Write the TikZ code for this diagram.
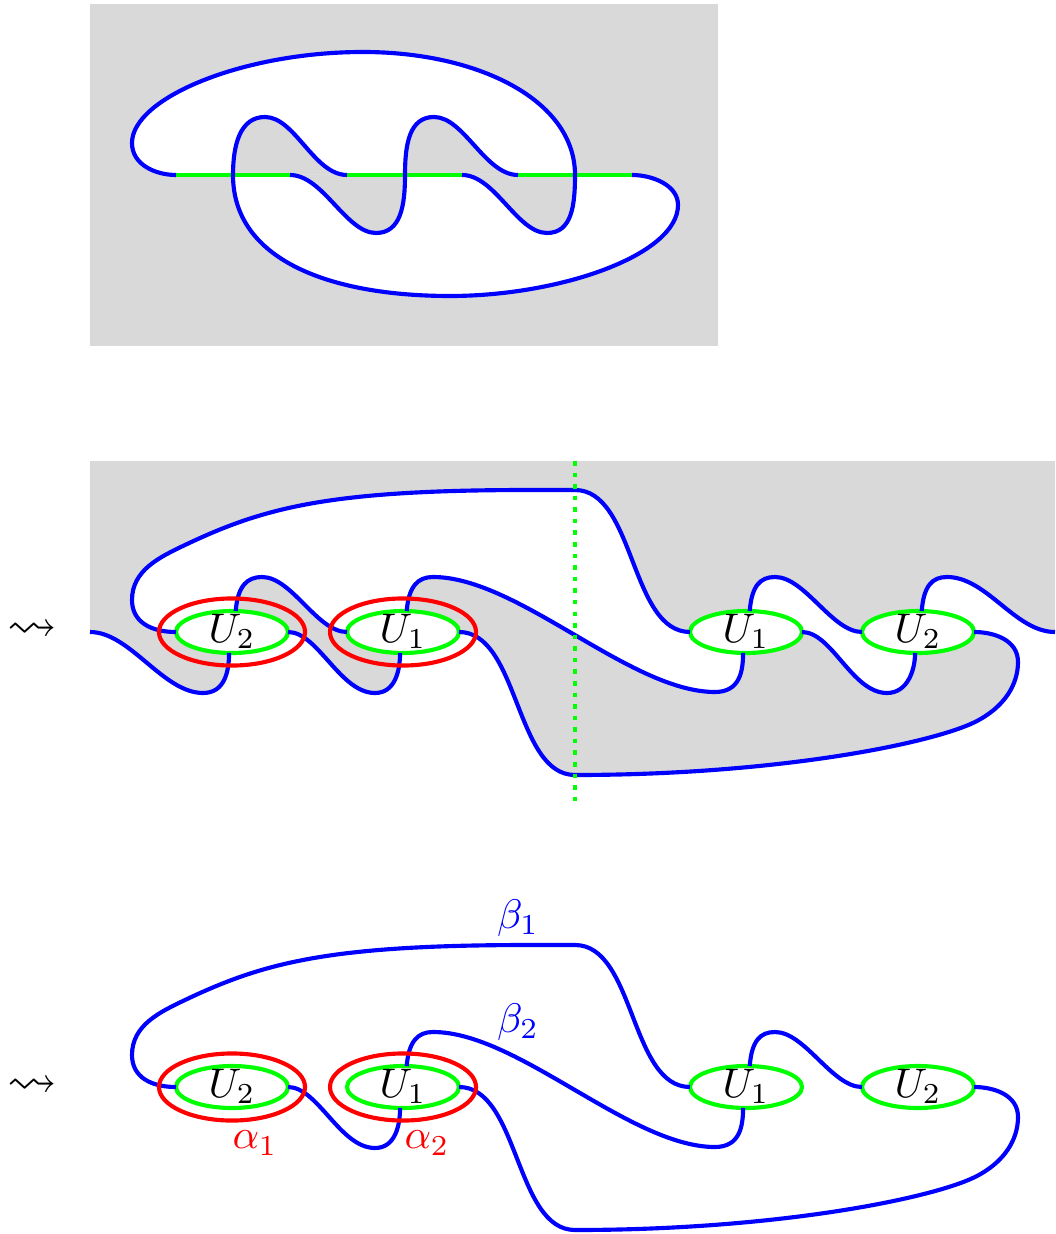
\documentclass[tikz,border=0pt]{standalone}
\usepackage{amssymb}
\usepackage{xcolor}
\usepackage{tikz}
\usetikzlibrary{shapes.geometric,backgrounds}

% the three arcs of the first surface
\newcommand{\strandA}{(g4) .. controls +(33,0) and +(-30,0) .. (547,233) .. controls +(25,0) and +(0,30) .. (575,175) .. controls +(0,-75) and +(115,0) .. (363,52) .. controls +(-120,0) and +(0,-45) .. (132,143) .. controls +(0,22) and +(-20,0) .. (g1)}
\newcommand{\strandB}{(g5) .. controls +(-33,0) and +(30,0) .. (434,117) .. controls +(-25,0) and +(0,-30) .. (405,175) .. controls +(0,30) and +(25,0) .. (376,233) .. controls +(-30,0) and +(33,0) .. (g2)}
\newcommand{\strandC}{(g3) .. controls +(-33,0) and +(30,0) .. (265,117) .. controls +(-25,0) and +(0,-30) .. (233,175) .. controls +(0,85) and +(-120,0) .. (450,296) .. controls +(110,0) and +(0,50) .. (678,205) .. controls +(0,-20) and +(20,0) .. (g6)}

% bands between the handles, #1 = prefix of the panel
\newcommand{\bandOne}[1]{(#1-in) .. controls +(40,0) and +(-40,0) .. (203,693) .. controls +(22,0) and +(0,18) .. (#1-u2l.262)}
\newcommand{\bandTwo}[1]{(#1-u2l.west) .. controls +(-25,0) and +(0,22) .. (132,600) .. controls +(0,-30) and +(-25,12) .. (185,545) .. controls +(80,-38) and +(-200,0) .. (530,490) -- (575,490) .. controls +(60,0) and +(-60,0) .. (#1-u1r.west)}
\newcommand{\bandThree}[1]{(#1-u1l.west) .. controls +(-30,0) and +(30,0) .. (262,577) .. controls +(-15,0) and +(2,-25) .. (#1-u2l.80)}
\newcommand{\bandFour}[1]{(#1-u2l.east) .. controls +(30,0) and +(-35,0) .. (375,693) .. controls +(20,0) and +(0,18) .. (#1-u1l.262)}
\newcommand{\bandFive}[1]{(#1-u1r.262) .. controls +(0,18) and +(25,0) .. (715,692) .. controls +(-85,0) and +(85,0) .. (433,577) .. controls +(-15,0) and +(2,-25) .. (#1-u1l.80)}
\newcommand{\bandSix}[1]{(#1-u1l.east) .. controls +(60,0) and +(-60,0) .. (575,775) .. controls +(200,0) and +(-45,22) .. (975,722) .. controls +(30,-15) and +(0,22) .. (1018,662) .. controls +(0,-22) and +(20,0) .. (#1-u2r.east)}
\newcommand{\bandSeven}[1]{(#1-u1r.80) .. controls +(2,-25) and +(-15,0) .. (775,577) .. controls +(30,0) and +(-30,0) .. (#1-u2r.west)}
\newcommand{\bandEight}[1]{(#1-u2r.262) .. controls +(0,18) and +(20,0) .. (887,693) .. controls +(-35,0) and +(30,0) .. (#1-u1r.east)}
\newcommand{\bandNine}[1]{(#1-u2r.80) .. controls +(2,-25) and +(-15,0) .. (947,577) .. controls +(40,0) and +(-40,0) .. (#1-out)}

\begin{document}
\begin{tikzpicture}[x=0.0085cm, y=-0.0085cm,
	strand/.style={draw=blue, line width=1pt},
	gline/.style={draw=green, line width=1pt},
	cutline/.style={draw=green, line width=1pt, dash pattern=on 1.1pt off 1.7pt},
	surface/.style={fill=black!15},
	handle/.style={ellipse, draw=green, line width=1pt, fill=white, inner sep=0pt, outer sep=0pt, minimum width=0.952cm, minimum height=0.357cm, text height=5.5pt, text depth=0.5pt},
	alphaloop/.style={ellipse, draw=red, line width=1pt, inner sep=0pt, minimum width=1.241cm, minimum height=0.57cm}]
	
	\useasboundingbox (0,0) rectangle (1055,1234);
	
	% first surface
	\coordinate (g1) at (176,175);
	\coordinate (g2) at (290,175);
	\coordinate (g3) at (347,175);
	\coordinate (g4) at (462,175);
	\coordinate (g5) at (518,175);
	\coordinate (g6) at (632,175);
	\fill[surface] (90,4) rectangle (718,346);
	\fill[white, even odd rule] \strandA -- cycle \strandB -- cycle \strandC -- cycle;
	\draw[gline] (g1) -- (g2) (g3) -- (g4) (g5) -- (g6);
	\draw[strand] \strandA \strandB \strandC;
	
	% cut open along the dotted line
	\node (m-arrow) at (32,631) {\large $\leadsto$};
	\coordinate (m-in) at (90,632);
	\coordinate (m-out) at (1055,632);
	\coordinate (m-cuttop) at (575,461);
	\coordinate (m-cutbot) at (575,803);
	\node[handle] (m-u2l) at (232,632) {$U_2$};
	\node[handle] (m-u1l) at (403,632) {$U_1$};
	\node[handle] (m-u1r) at (746,632) {$U_1$};
	\node[handle] (m-u2r) at (918,632) {$U_2$};
	\begin{scope}[on background layer]
		\fill[surface] (90,461) rectangle (1055,800);
		\fill[white] \bandTwo{m} -- \bandFive{m} -- \bandThree{m} -- cycle;
		\fill[white] \bandSeven{m} -- \bandEight{m} -- cycle;
		\fill[white] \bandOne{m} -- \bandFour{m} -- \bandSix{m} -- \bandNine{m} -- (1055,810) -- (90,810) -- cycle;
	\end{scope}
	\draw[strand] \bandOne{m} \bandTwo{m} \bandThree{m} \bandFour{m} \bandFive{m} \bandSix{m} \bandSeven{m} \bandEight{m} \bandNine{m};
	\node[alphaloop] (m-a1) at (m-u2l) {};
	\node[alphaloop] (m-a2) at (m-u1l) {};
	\draw[cutline] (m-cuttop) -- (m-cutbot);
	
	% the curves alpha and beta
	\begin{scope}[shift={(0,455)}]
		\node (b-arrow) at (32,632) {\large $\leadsto$};
		\node[handle] (b-u2l) at (232,632) {$U_2$};
		\node[handle] (b-u1l) at (403,632) {$U_1$};
		\node[handle] (b-u1r) at (746,632) {$U_1$};
		\node[handle] (b-u2r) at (918,632) {$U_2$};
		\draw[strand] \bandTwo{b} \bandFour{b} \bandFive{b} \bandSix{b} \bandSeven{b};
		\node[alphaloop] (b-a1) at (b-u2l) {};
		\node[alphaloop] (b-a2) at (b-u1l) {};
		\node[text=red] (b-alpha1) at (255,688) {$\alpha_1$};
		\node[text=red] (b-alpha2) at (427,688) {$\alpha_2$};
		\node[text=blue] (b-beta1) at (518,463) {$\beta_1$};
		\node[text=blue] (b-beta2) at (518,567) {$\beta_2$};
	\end{scope}
\end{tikzpicture}
\end{document}
